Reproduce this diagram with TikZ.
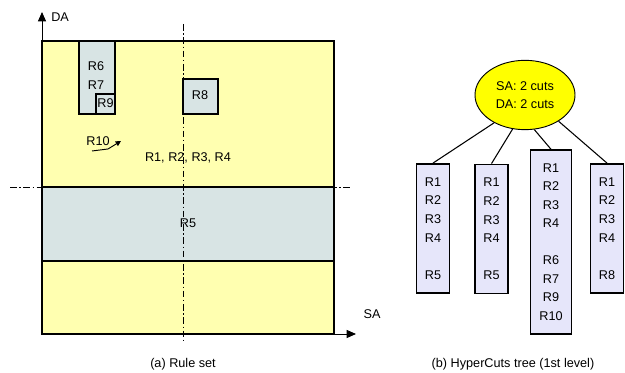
\documentclass[tikz,border=0pt]{standalone}
\usepackage{fontspec}
\setmainfont{Liberation Sans}
\usetikzlibrary{arrows.meta,shapes.geometric}
\definecolor{ruleyellow}{RGB}{255,255,176}
\definecolor{rulegray}{RGB}{216,228,228}
\definecolor{leafblue}{RGB}{230,230,250}
\definecolor{cutyellow}{RGB}{255,255,0}
\tikzset{
  lbl/.style={inner sep=0pt, font=\fontsize{9.5}{11}\selectfont},
  leaf/.style={draw, line width=1.1pt, fill=leafblue, minimum width=25pt, inner sep=0pt, align=center,
    font=\fontsize{9.5}{13.9}\selectfont},
  region/.style={draw, line width=0.9pt},
  cutline/.style={line width=0.7pt, dash pattern=on 5pt off 2pt on 1pt off 2pt},
  axis/.style={line width=0.7pt, -{Triangle[length=7pt,width=6pt]}}
}
\begin{document}
\begin{tikzpicture}[x=0.75pt, y=-0.75pt]
\useasboundingbox (0,0) rectangle (625,373);
% rule set
\draw[region, fill=ruleyellow] (42,41) rectangle (334,334);
\draw[region, fill=rulegray] (42,187) rectangle (334,261);
\draw[region, fill=rulegray] (79,41) rectangle (115,114);
\draw[region, fill=rulegray] (96,94) rectangle (115,114);
\draw[region, fill=rulegray] (183,79) rectangle (218,114);
\coordinate (o) at (42,334);
\coordinate (ytop) at (42,12);
\coordinate (xend) at (356,334);
\draw[axis] (o) -- (ytop);
\draw[axis] (o) -- (xend);
\node[lbl, anchor=west] (da) at (51,17) {DA};
\node[lbl] (sa) at (372,314) {SA};
\coordinate (vtop) at (183,24);
\coordinate (vbot) at (183,343);
\coordinate (hleft) at (10,187);
\coordinate (hright) at (351,187);
\draw[cutline] (vtop) -- (vbot);
\draw[cutline] (hleft) -- (hright);
\node[lbl] (r6) at (96,66) {R6};
\node[lbl] (r7) at (96,85) {R7};
\node[lbl] (r9) at (105.5,103) {R9};
\node[lbl] (r8) at (200,95) {R8};
\node[lbl] (r10) at (98,141) {R10};
\node[lbl] (r1234) at (188,158) {R1, R2, R3, R4};
\node[lbl] (r5) at (188,223) {R5};
\coordinate (r10a) at (92,151);
\coordinate (r10b) at (108,149);
\coordinate (r10c) at (121,141);
\draw[line width=0.7pt, -{Triangle[length=4pt,width=4pt]}] (r10a) -- (r10b) -- (r10c);
\node[lbl] (capa) at (183,364) {(a) Rule set};
% hypercuts tree
\node[draw, line width=0.7pt, ellipse, fill=cutyellow, minimum width=75pt, minimum height=52pt, inner sep=0pt,
  align=center, font=\fontsize{9.5}{14}\selectfont] (cut) at (525,95) {SA: 2 cuts\\DA: 2 cuts};
\node[leaf, minimum height=97pt] (b1) at (433,228.5) {R1\\R2\\R3\\R4\\\mbox{}\\R5};
\node[leaf, minimum height=97pt] (b2) at (491.5,229) {R1\\R2\\R3\\R4\\\mbox{}\\R5};
\node[leaf, minimum height=138pt, minimum width=31pt] (b3) at (551,242) {R1\\R2\\R3\\R4\\\mbox{}\\R6\\R7\\R9\\R10};
\node[leaf, minimum height=97pt] (b4) at (607,228.5) {R1\\R2\\R3\\R4\\\mbox{}\\R8};
\draw[line width=0.8pt] (cut.222) -- (b1.north);
\draw[line width=0.8pt] (cut.250) -- (b2.north);
\draw[line width=0.8pt] (cut.285) -- (b3.north);
\draw[line width=0.8pt] (cut.322) -- (b4.north);
\node[lbl] (capb) at (513,364) {(b) HyperCuts tree (1st level)};
\end{tikzpicture}
\end{document}
